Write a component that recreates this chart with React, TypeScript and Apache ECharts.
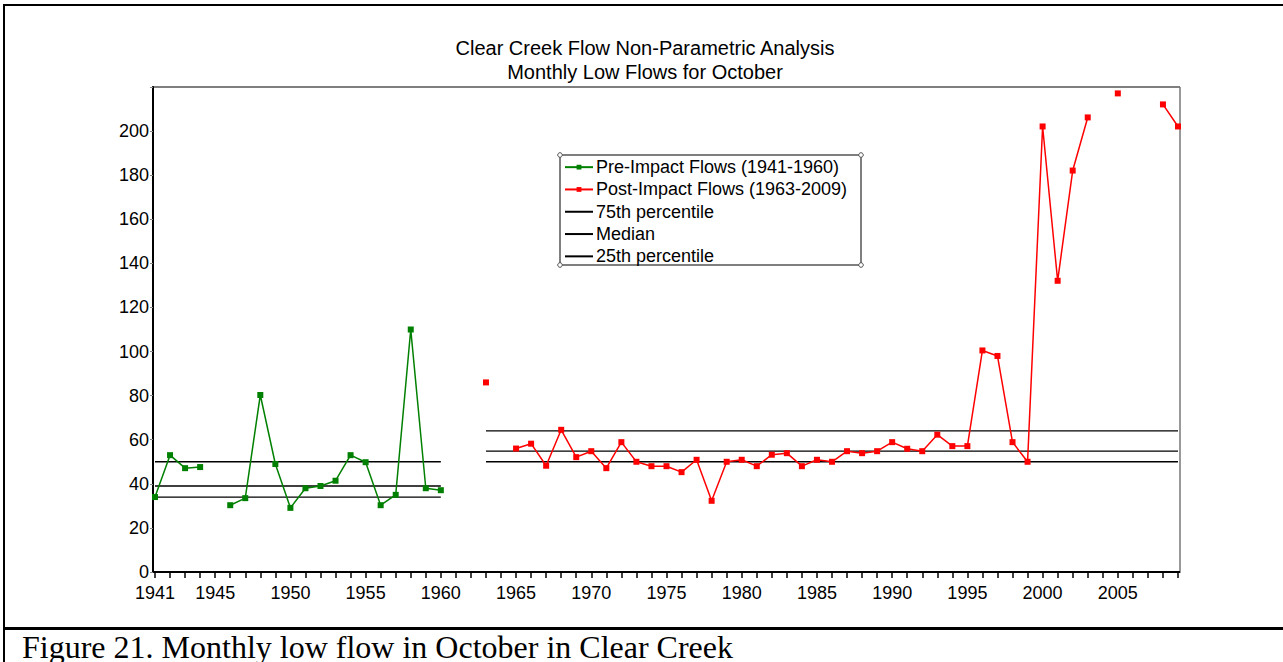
import React, { useEffect, useRef } from "react";
import * as echarts from "echarts";

const preYears = [1941, 1942, 1943, 1944, 1945, 1946, 1947, 1948, 1949, 1950, 1951, 1952, 1953, 1954, 1955, 1956, 1957, 1958, 1959, 1960];
const preFlows: (number | null)[] = [34, 53, 47.1, 47.6, null, 30.3, 33.5, 80.3, 49, 29.1, 38, 39, 41.4, 53, 49.8, 30.3, 35, 110, 38, 37.1];

const postYears = [
  1963, 1964, 1965, 1966, 1967, 1968, 1969, 1970, 1971, 1972, 1973, 1974, 1975, 1976, 1977, 1978,
  1979, 1980, 1981, 1982, 1983, 1984, 1985, 1986, 1987, 1988, 1989, 1990, 1991, 1992, 1993, 1994,
  1995, 1996, 1997, 1998, 1999, 2000, 2001, 2002, 2003, 2004, 2005, 2006, 2007, 2008, 2009,
];
const postFlows: (number | null)[] = [
  86, null, 56, 58.2, 48.2, 64.5, 52.1, 54.8, 47.1, 58.9, 50, 48, 48, 45.3, 50.9, 32.3,
  50, 50.9, 48, 53.2, 53.9, 48, 50.9, 50, 54.8, 53.9, 54.8, 58.9, 55.9, 54.8, 62.3, 57.1,
  57.1, 100.5, 98, 58.9, 50, 202.1, 132.1, 182.1, 206.2, null, 217.1, null, null, 212.1, 202.1,
];

// percentile levels: [pre-impact, post-impact]
const pct75 = [50, 64];
const pctMedian = [39, 54.8];
const pct25 = [34, 50];
const prePeriod = [1941, 1960];
const postPeriod = [1963, 2009];

const titleLines = ["Clear Creek Flow Non-Parametric Analysis", "Monthly Low Flows for October"];
const caption = "Figure 21. Monthly low flow in October in Clear Creek";
const seriesNames = ["Pre-Impact Flows (1941-1960)", "Post-Impact Flows (1963-2009)", "75th percentile", "Median", "25th percentile"];

const SANS = "'Liberation Sans', Arial, sans-serif";

function pctData(levels: number[]) {
  return [
    [prePeriod[0], levels[0]],
    [prePeriod[1], levels[0]],
    [(prePeriod[1] + postPeriod[0]) / 2, "-"],
    [postPeriod[0], levels[1]],
    [postPeriod[1], levels[1]],
  ];
}

export default function App() {
  const ref = useRef<HTMLDivElement>(null);
  useEffect(() => {
    if (!ref.current) return;
    const chart = echarts.init(ref.current, undefined, { renderer: "svg" });
    const toPairs = (ys: number[], vs: (number | null)[]) => ys.map((y, i) => [y, vs[i] == null ? "-" : vs[i]]);
    const pctSeries = (name: string, levels: number[]) => ({
      name,
      type: "line",
      data: pctData(levels),
      showSymbol: false,
      symbol: "none",
      connectNulls: false,
      lineStyle: { color: "#000", width: 1.3 },
      itemStyle: { color: "#000" },
      z: 1,
      silent: true,
    });
    const handles = [
      [560, 155],
      [861, 155],
      [560, 265],
      [861, 265],
    ];
    chart.setOption({
      animation: false,
      backgroundColor: "#fff",
      grid: { left: 155, right: 105, top: 87, bottom: 662 - 572, containLabel: false },
      xAxis: {
        type: "value",
        min: 1941,
        max: 2009,
        interval: 1,
        splitLine: { show: false },
        axisLine: { show: true, lineStyle: { color: "#000", width: 2 } },
        axisTick: { show: true, length: 6, lineStyle: { color: "#000", width: 1.5 } },
        axisLabel: {
          color: "#000",
          fontFamily: SANS,
          fontSize: 18,
          margin: 12,
          showMinLabel: true,
          showMaxLabel: true,
          formatter: (v: number) => (v === 1941 || (v % 5 === 0 && v !== 2010) ? String(v) : ""),
        },
      },
      yAxis: {
        type: "value",
        min: 0,
        max: 220,
        interval: 20,
        offset: 2,
        splitLine: { show: false },
        axisLine: { show: true, lineStyle: { color: "#000", width: 2 } },
        axisTick: { show: true, length: 3, lineStyle: { color: "#888", width: 1 } },
        axisLabel: {
          color: "#000",
          fontFamily: SANS,
          fontSize: 18,
          margin: 4,
          formatter: (v: number) => (v === 220 ? "" : String(v)),
        },
      },
      legend: {
        show: true,
        orient: "vertical",
        left: 564,
        top: 158,
        padding: 0,
        itemWidth: 28,
        itemHeight: 6,
        itemGap: 4,
        data: [
          { name: seriesNames[0] },
          { name: seriesNames[1] },
          { name: seriesNames[2], itemStyle: { opacity: 0 } },
          { name: seriesNames[3], itemStyle: { opacity: 0 } },
          { name: seriesNames[4], itemStyle: { opacity: 0 } },
        ],
        textStyle: { color: "#000", fontFamily: SANS, fontSize: 18, lineHeight: 18.3, padding: [0, 0, 0, -2] },
        selectedMode: false,
      },
      graphic: [
        { type: "rect", shape: { x: 3, y: 4, width: 1290, height: 2 }, style: { fill: "#000" }, silent: true },
        { type: "rect", shape: { x: 3, y: 4, width: 2, height: 670 }, style: { fill: "#000" }, silent: true },
        { type: "rect", shape: { x: 3, y: 627, width: 1290, height: 3 }, style: { fill: "#000" }, silent: true },
        { type: "line", shape: { x1: 152, y1: 87, x2: 1180, y2: 87 }, style: { stroke: "#555", lineWidth: 1.5 }, silent: true },
        { type: "line", shape: { x1: 1180, y1: 87, x2: 1180, y2: 573 }, style: { stroke: "#777", lineWidth: 1.5 }, silent: true },
        { type: "line", shape: { x1: 152, y1: 572, x2: 1180, y2: 572 }, style: { stroke: "#000", lineWidth: 2 }, silent: true },
        {
          type: "text",
          x: 645,
          y: 48,
          style: { text: titleLines[0], fill: "#000", font: `20px ${SANS}`, textAlign: "center", textVerticalAlign: "middle" },
          silent: true,
        },
        {
          type: "text",
          x: 645,
          y: 72,
          style: { text: titleLines[1], fill: "#000", font: `20px ${SANS}`, textAlign: "center", textVerticalAlign: "middle" },
          silent: true,
        },
        {
          type: "rect",
          shape: { x: 560, y: 155, width: 301, height: 110 },
          style: { fill: "none", stroke: "#555", lineWidth: 1.5 },
          silent: true,
        },
        ...handles.map(([cx, cy]) => ({
          type: "circle",
          shape: { cx, cy, r: 2.3 },
          style: { fill: "#fff", stroke: "#555", lineWidth: 1 },
          silent: true,
          z: 100,
        })),
        {
          type: "text",
          x: 22,
          y: 647,
          style: {
            text: caption,
            fill: "#000",
            font: "32px 'Liberation Serif', 'Times New Roman', serif",
            textAlign: "left",
            textVerticalAlign: "middle",
          },
          silent: true,
        },
      ],
      series: [
        {
          name: seriesNames[0],
          type: "line",
          data: toPairs(preYears, preFlows),
          connectNulls: false,
          symbol: "rect",
          symbolSize: 6,
          showAllSymbol: true,
          lineStyle: { color: "#008000", width: 1.5 },
          itemStyle: { color: "#008000" },
          z: 3,
        },
        {
          name: seriesNames[1],
          type: "line",
          data: toPairs(postYears, postFlows),
          connectNulls: false,
          symbol: "rect",
          symbolSize: 6,
          showAllSymbol: true,
          lineStyle: { color: "#ff0000", width: 1.5 },
          itemStyle: { color: "#ff0000" },
          z: 3,
        },
        pctSeries(seriesNames[2], pct75),
        pctSeries(seriesNames[3], pctMedian),
        pctSeries(seriesNames[4], pct25),
      ],
    });
    return () => chart.dispose();
  }, []);
  return <div ref={ref} style={{ position: "absolute", left: 0, top: 0, width: 1283, height: 662 }} />;
}
